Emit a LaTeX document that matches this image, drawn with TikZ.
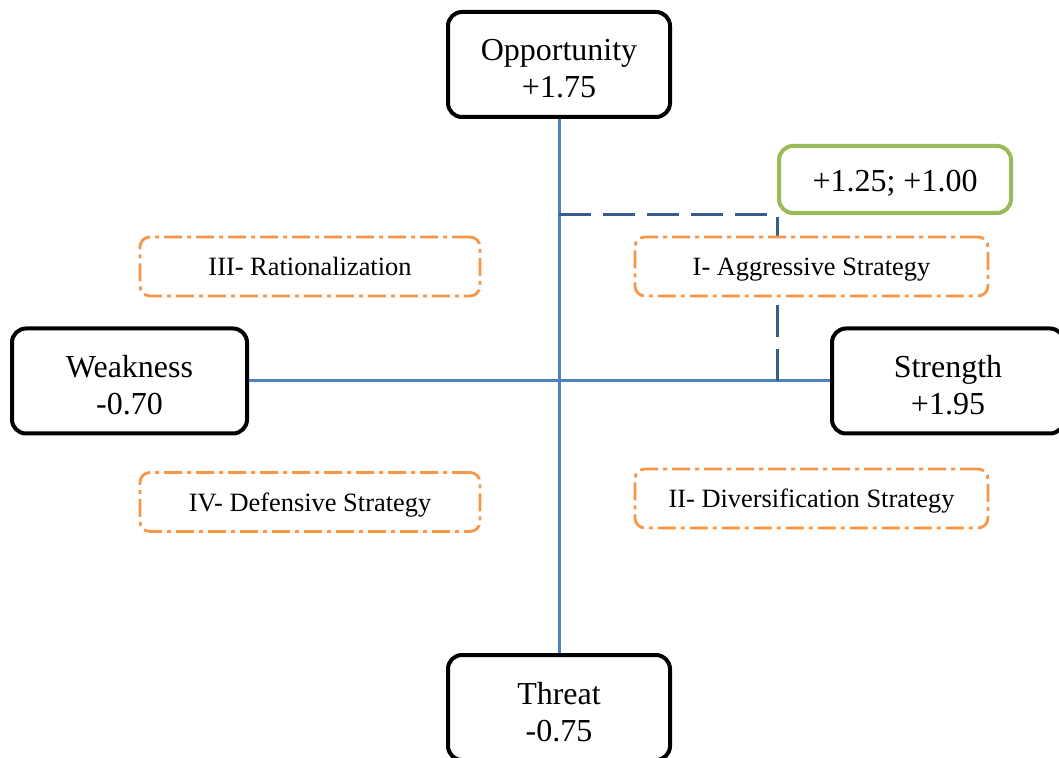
\documentclass[tikz,border=0pt]{standalone}
\usepackage{fontspec}
\setmainfont{Liberation Serif}
\usetikzlibrary{backgrounds}
\definecolor{axisblue}{HTML}{4F81BD}
\definecolor{pointblue}{HTML}{385D8A}
\definecolor{quadorange}{HTML}{F79646}
\definecolor{pointgreen}{HTML}{9BBB59}

\begin{document}
\begin{tikzpicture}[x=0.5pt,y=-0.5pt,
    factor/.style={draw=black,line width=2pt,rounded corners=7pt,fill=white,align=center,
      minimum height=52.5pt,inner sep=0pt,text height=34pt,text depth=0.5pt,
      font=\fontsize{16}{18.5}\selectfont},
    quadrant/.style={draw=quadorange,line width=1.4pt,rounded corners=5pt,fill=white,
      dash pattern=on 9pt off 2.5pt on 2pt off 2.5pt,minimum height=29.5pt,inner sep=0pt,
      text height=12pt,text depth=2.5pt,font=\fontsize{13.2}{15}\selectfont},
    axis/.style={draw=axisblue,line width=1.5pt}]
    \useasboundingbox (0,0) rectangle (1059,758);
    \node[factor,minimum width=111pt] (opp) at (559,64.5) {Opportunity\\+1.75};
    \node[factor,minimum width=111pt] (thr) at (559,707.5) {Threat\\-0.75};
    \node[factor,minimum width=117.5pt] (weak) at (129.5,381) {Weakness\\-0.70};
    \node[factor,minimum width=116pt] (str) at (948,381) {Strength\\+1.95};
    \node[draw=pointgreen,line width=2pt,rounded corners=7pt,fill=white,minimum width=116pt,
      minimum height=33.5pt,inner sep=0pt,text height=14pt,text depth=2pt,
      font=\fontsize{16}{18.5}\selectfont] (pt) at (895,179.5) {+1.25; +1.00};
    \node[quadrant,minimum width=176.5pt] (q1) at (811.5,266.5) {I- Aggressive Strategy};
    \node[quadrant,minimum width=176.5pt] (q2) at (811.5,498.5) {II- Diversification Strategy};
    \node[quadrant,minimum width=170pt] (q3) at (310,266.5) {III- Rationalization};
    \node[quadrant,minimum width=170pt] (q4) at (310,502) {IV- Defensive Strategy};
    \begin{pgfonlayer}{background}
      \draw[axis] (opp) -- (thr);
      \draw[axis] (weak) -- (str);
      \draw[pointblue,line width=1.5pt,dash pattern=on 16pt off 6pt]
        (opp.south |- pt.south west) -- (pt.south west) -- (pt.south west |- str.west);
    \end{pgfonlayer}
\end{tikzpicture}
\end{document}
